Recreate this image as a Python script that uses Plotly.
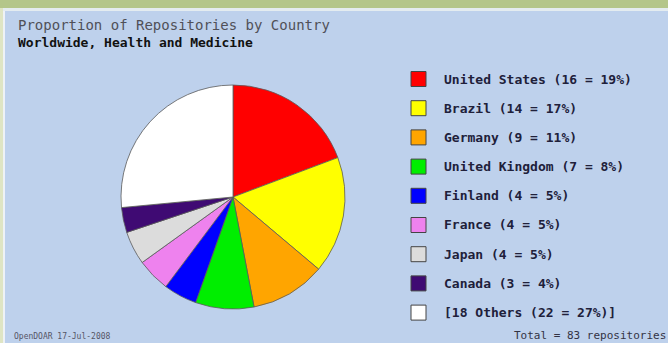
import plotly.graph_objects as go

countries = ["United States", "Brazil", "Germany", "United Kingdom", "Finland",
             "France", "Japan", "Canada", "18 Others"]
counts = [16, 14, 9, 7, 4, 4, 4, 3, 22]
percents = [19, 17, 11, 8, 5, 5, 5, 4, 27]
colors = ["#ff0000", "#ffff00", "#ffa500", "#00ee00", "#0000ff",
          "#ee82ee", "#dcdcdc", "#3f0a73", "#ffffff"]
title = "Proportion of Repositories by Country"
subtitle = "Worldwide, Health and Medicine"
footer = "OpenDOAR 17-Jul-2008"
total_text = "Total = 83 repositories"

W, H = 668, 343
BG = "#bed1ec"
MONO = "DejaVu Sans Mono, Liberation Mono, monospace"

fig = go.Figure()
fig.add_trace(go.Pie(
    labels=countries, values=counts, sort=False, direction="clockwise",
    rotation=0, textinfo="none", hoverinfo="label+value+percent",
    marker=dict(colors=colors, line=dict(color="#5a5a5a", width=0.8)),
    domain=dict(x=[121 / W, 345 / W], y=[34 / H, 258 / H]),
    showlegend=False,
))

shapes = []
annotations = []

# frame decorations
shapes.append(dict(type="rect", xref="paper", yref="paper", x0=0, x1=1,
                   y0=(H - 8) / H, y1=1, fillcolor="#b4c68a", line_width=0, layer="above"))
shapes.append(dict(type="rect", xref="paper", yref="paper", x0=0, x1=1,
                   y0=(H - 11) / H, y1=(H - 8) / H, fillcolor="#e4ecf0", line_width=0, layer="above"))
shapes.append(dict(type="rect", xref="paper", yref="paper", x0=0, x1=3 / W,
                   y0=0, y1=(H - 8) / H, fillcolor="#dfe5c4", line_width=0, layer="above"))
shapes.append(dict(type="rect", xref="paper", yref="paper", x0=3 / W, x1=5 / W,
                   y0=0, y1=(H - 11) / H, fillcolor="#eef2f6", line_width=0, layer="above"))

# legend
row0, step = 79, 29.2
for i, (c, n, p, col) in enumerate(zip(countries, counts, percents, colors)):
    yc = row0 + i * step
    shapes.append(dict(type="rect", xref="paper", yref="paper",
                       x0=411 / W, x1=426 / W,
                       y0=(H - yc - 7.5) / H, y1=(H - yc + 7.5) / H,
                       fillcolor=col, line=dict(color="#444444", width=1)))
    label = f"{c} ({n} = {p}%)"
    if c.endswith("Others"):
        label = f"[{label}]"
    annotations.append(dict(xref="paper", yref="paper", x=442 / W, y=(H - yc) / H,
                            text=f"<b>{label}</b>", showarrow=False, xanchor="left", yanchor="middle",
                            font=dict(family=MONO, size=13, color="#20203a")))

annotations.append(dict(xref="paper", yref="paper", x=1.0, y=(H - 335) / H,
                        text=total_text, showarrow=False, xanchor="right", yanchor="middle",
                        font=dict(family=MONO, size=11, color="#333344")))
annotations.append(dict(xref="paper", yref="paper", x=16 / W, y=(H - 25) / H,
                        text=title, showarrow=False, xanchor="left", yanchor="middle",
                        font=dict(family=MONO, size=14, color="#505058")))
annotations.append(dict(xref="paper", yref="paper", x=16 / W, y=(H - 42) / H,
                        text=f"<b>{subtitle}</b>", showarrow=False, xanchor="left", yanchor="middle",
                        font=dict(family=MONO, size=13, color="#111111")))
annotations.append(dict(xref="paper", yref="paper", x=12 / W, y=(H - 336) / H,
                        text=footer, showarrow=False, xanchor="left", yanchor="middle",
                        font=dict(family=MONO, size=8, color="#555566")))

fig.update_layout(
    width=W, height=H, margin=dict(l=0, r=0, t=0, b=0),
    paper_bgcolor=BG, plot_bgcolor=BG,
    shapes=shapes, annotations=annotations,
)
fig.write_html("out.html", config={"displayModeBar": False},
               post_script="document.body.style.margin='0';document.body.style.overflow='hidden';")
